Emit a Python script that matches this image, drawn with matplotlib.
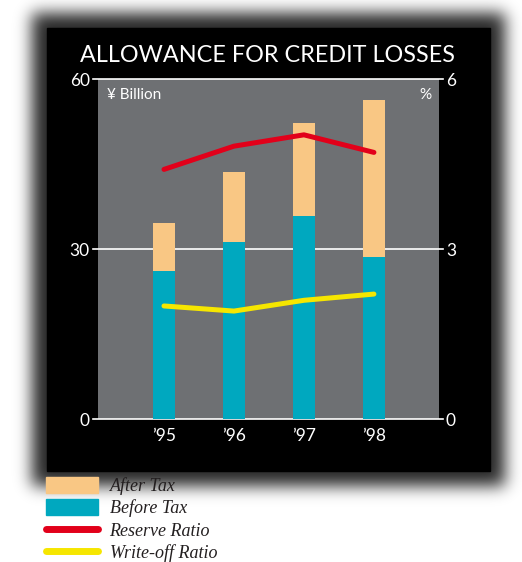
import matplotlib.pyplot as plt
import numpy as np
from matplotlib.patches import Rectangle, Patch
from matplotlib.lines import Line2D

# Allowance for credit losses, fiscal '95-'98
years = ["\u201995", "\u201996", "\u201997", "\u201998"]
before_tax = [26.2, 31.3, 35.8, 28.7]      # ¥ billion
after_tax = [8.4, 12.3, 16.5, 27.6]        # ¥ billion, stacked on top
reserve_ratio = [4.41, 4.82, 5.02, 4.71]   # %
writeoff_ratio = [2.00, 1.91, 2.10, 2.21]  # %

TEAL = "#00A8BF"
PEACH = "#F9C784"
RED = "#E2001A"
YELLOW = "#F6E600"
PANEL = "#6E7073"

plt.rcParams['font.family'] = ['Lato', 'DejaVu Sans']

W, H = 522, 562
fig = plt.figure(figsize=(W / 100, H / 100), dpi=100)

def fx(px):
    return px / W

def fy(py):
    return 1 - py / H

# background layer: soft drop shadow plus the black card
bg = fig.add_axes([0, 0, 1, 1], zorder=-10)
bg.axis("off")
mask = np.zeros((H, W))
mask[13:486, 32:505] = 1.0
k = np.exp(-0.5 * (np.arange(-30, 31) / 8.0) ** 2)
k /= k.sum()
mask = np.apply_along_axis(lambda r: np.convolve(r, k, mode="same"), 1, mask)
mask = np.apply_along_axis(lambda c: np.convolve(c, k, mode="same"), 0, mask)
shadow = np.zeros((H, W, 4))
shadow[..., 3] = np.clip(mask * 0.85, 0, 1)
bg.imshow(shadow, extent=(0, W, H, 0), aspect="auto", interpolation="bilinear")
bg.add_patch(Rectangle((47, 28), 443, 443, color="black"))
bg.set_xlim(0, W)
bg.set_ylim(H, 0)

fig.text(fx(268), fy(55), "ALLOWANCE FOR CREDIT LOSSES", color="white",
         fontsize=16.8, ha="center", va="center")

# main chart
ax = fig.add_axes([fx(98), fy(419.3), (439 - 98) / W, (419.3 - 79.3) / H])
ax.set_facecolor(PANEL)
x = np.arange(len(years))
bw = 0.314
ax.bar(x, before_tax, bw, color=TEAL, zorder=2)
ax.bar(x, after_tax, bw, bottom=before_tax, color=PEACH, zorder=2)
for v in (0, 30, 60):
    ax.axhline(v, xmin=-0.015, xmax=1.012, color="white", lw=1.2,
               zorder=1, clip_on=False)
ax.set_xlim(-0.943, 3.93)
ax.set_ylim(0, 60)
ax.set_yticks([0, 30, 60])
ax.set_xticks(x, years)
ax.tick_params(axis="y", length=0, pad=6, labelcolor="white", labelsize=12.5)
ax.tick_params(axis="x", length=0, pad=6, labelcolor="white", labelsize=12.5)
for s in ax.spines.values():
    s.set_visible(False)

ax2 = ax.twinx()
ax2.plot(x, reserve_ratio, color=RED, lw=3.6, solid_capstyle="round",
         solid_joinstyle="round")
ax2.plot(x, writeoff_ratio, color=YELLOW, lw=3.6, solid_capstyle="round",
         solid_joinstyle="round")
ax2.set_ylim(0, 6)
ax2.set_yticks([0, 3, 6])
ax2.tick_params(axis="y", length=0, pad=5, labelcolor="white", labelsize=12.5)
for s in ax2.spines.values():
    s.set_visible(False)

ax.text(0.026, 0.954, "\u00a5 Billion", transform=ax.transAxes, color="white",
        fontsize=11, ha="left", va="center")
ax.text(0.979, 0.954, "%", transform=ax.transAxes, color="white",
        fontsize=11, ha="right", va="center")

handles = [
    Patch(color=PEACH),
    Patch(color=TEAL),
    Line2D([], [], color=RED, lw=5, solid_capstyle="round"),
    Line2D([], [], color=YELLOW, lw=5, solid_capstyle="round"),
]
labels = ["After Tax", "Before Tax", "Reserve Ratio", "Write-off Ratio"]
fig.legend(handles, labels, loc="upper left",
           bbox_to_anchor=(fx(46), fy(477)), frameon=False, borderpad=0,
           borderaxespad=0, handlelength=2.9, handleheight=0.95,
           handletextpad=0.62, labelspacing=0.24, labelcolor="#231F20",
           prop=dict(family="Liberation Serif", style="italic", size=13))

fig.savefig("out.png", dpi=100)
